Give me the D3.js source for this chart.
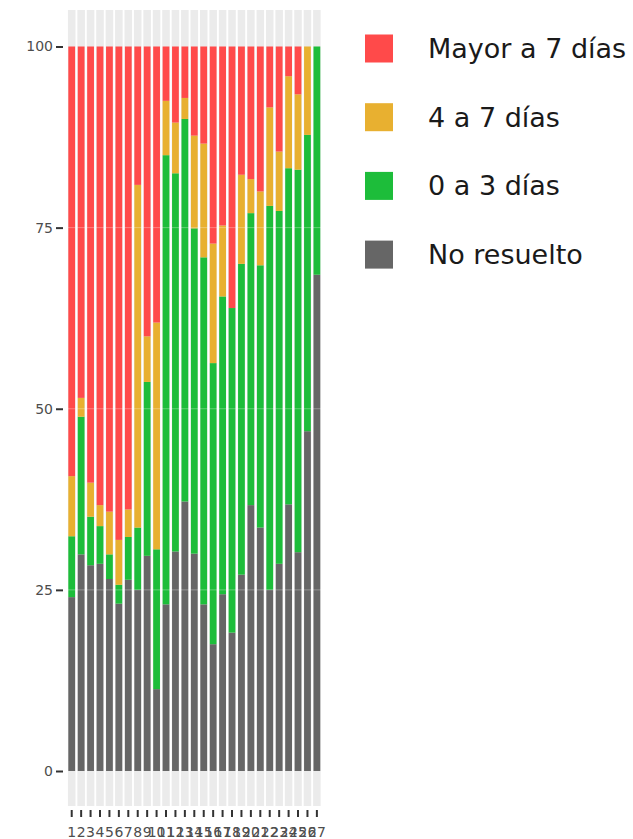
<!DOCTYPE html>
<html>
<head>
<meta charset="utf-8">
<script src="https://cdn.jsdelivr.net/npm/d3@7"></script>
<style>
  body { margin: 0; background: #fff; }
  svg text { font-family: "DejaVu Sans", Verdana, sans-serif; }
</style>
</head>
<body>
<div id="chart"></div>
<script>
// categories 1..27
var categories = ["1","2","3","4","5","6","7","8","9","10","11","12","13","14","15","16","17","18","19","20","21","22","23","24","25","26","27"];

// percentages per series (bottom to top)
var noResuelto = [24.0,29.9,28.4,28.6,26.5,23.1,26.4,25.0,29.7,11.3,23.0,30.3,37.2,30.0,23.0,17.5,24.4,19.1,27.1,36.7,33.6,25.0,28.6,36.8,30.2,46.9,68.5];
var dias0a3 = [8.4,19.0,6.7,5.2,3.4,2.6,5.9,8.6,24.0,19.3,62.0,52.2,52.8,44.9,47.9,38.8,41.1,44.8,42.9,40.3,36.2,53.0,48.7,46.4,52.8,40.9,31.5];
var dias4a7 = [8.3,2.6,4.7,2.9,5.9,6.2,3.8,47.3,6.3,31.3,7.5,7.0,2.9,12.8,15.7,16.5,9.8,0,12.3,4.7,10.2,13.6,8.2,12.7,10.4,12.2,0];
var mayor7 = [59.3,48.5,60.2,63.3,64.2,68.1,63.9,19.1,40.0,38.1,7.5,10.5,7.1,12.3,13.4,27.2,24.7,36.1,17.7,18.3,20.0,8.4,14.5,4.1,6.6,0,0];

var seriesNames = ["No resuelto", "0 a 3 días", "4 a 7 días", "Mayor a 7 días"];
var seriesColors = ["#666666", "#1dbd3a", "#e8b030", "#ff4a4a"];
var yTicks = [0, 25, 50, 75, 100];

var width = 633, height = 839;

var rows = categories.map(function (c, i) {
    return {
        cat: c,
        "No resuelto": noResuelto[i],
        "0 a 3 días": dias0a3[i],
        "4 a 7 días": dias4a7[i],
        "Mayor a 7 días": mayor7[i]
    };
});

var stacked = d3.stack().keys(seriesNames)(rows);

var x = d3.scaleBand()
    .domain(categories)
    .range([67, 321.6])
    .paddingInner(0.28)
    .paddingOuter(0.14);

var y = d3.scaleLinear()
    .domain([0, 100])
    .range([771, 46.5]);

var svg = d3.select("#chart").append("svg")
    .attr("width", width)
    .attr("height", height);

// panel: grey stripe per category, white gaps
var panelTop = 10, panelBottom = 806;
svg.append("g")
    .selectAll("rect")
    .data(categories)
    .join("rect")
    .attr("x", d => x(d) - x.step() * 0.04)
    .attr("y", panelTop)
    .attr("width", x.bandwidth() + x.step() * 0.08)
    .attr("height", panelBottom - panelTop)
    .attr("fill", "#ebebeb");

// bars
svg.append("g")
    .selectAll("g")
    .data(stacked)
    .join("g")
    .attr("fill", (d, i) => seriesColors[i])
    .selectAll("rect")
    .data(d => d)
    .join("rect")
    .attr("x", d => x(d.data.cat))
    .attr("y", d => y(d[1]))
    .attr("width", x.bandwidth())
    .attr("height", d => Math.max(0, y(d[0]) - y(d[1])));

// faint horizontal grid over bars
svg.append("g")
    .selectAll("line")
    .data([25, 50, 75])
    .join("line")
    .attr("x1", 66).attr("x2", 323)
    .attr("y1", d => y(d)).attr("y2", d => y(d))
    .attr("stroke", "#fff")
    .attr("stroke-opacity", 0.3)
    .attr("stroke-width", 1);

// y axis
var yAxis = svg.append("g")
    .attr("transform", "translate(63,0)")
    .call(d3.axisLeft(y).tickValues(yTicks).tickSize(7).tickPadding(3));
yAxis.select(".domain").remove();
yAxis.selectAll("line").attr("stroke", "#333").attr("stroke-width", 2);
yAxis.selectAll("text").attr("fill", "#4d4d4d").attr("font-size", 14)
    .attr("font-family", "DejaVu Sans, Verdana, sans-serif");

// x axis
var xAxis = svg.append("g")
    .attr("transform", "translate(0,810)")
    .call(d3.axisBottom(x).tickSize(7).tickPadding(10));
xAxis.select(".domain").remove();
xAxis.selectAll("line").attr("stroke", "#333").attr("stroke-width", 2);
xAxis.selectAll("text").attr("fill", "#4d4d4d").attr("font-size", 14)
    .attr("font-family", "DejaVu Sans, Verdana, sans-serif");

// legend (top item = top of stack)
var legendOrder = seriesNames.slice().reverse();
var legendColors = seriesColors.slice().reverse();
var legend = svg.append("g")
    .selectAll("g")
    .data(legendOrder)
    .join("g")
    .attr("transform", (d, i) => "translate(365," + (48.5 + i * 68.7) + ")");
legend.append("rect")
    .attr("x", 0).attr("y", -14)
    .attr("width", 28).attr("height", 28)
    .attr("fill", (d, i) => legendColors[i]);
legend.append("text")
    .attr("x", 63)
    .attr("y", 0)
    .attr("dy", "0.35em")
    .attr("font-size", 27)
    .attr("fill", "#1a1a1a")
    .text(d => d);
</script>
</body>
</html>
